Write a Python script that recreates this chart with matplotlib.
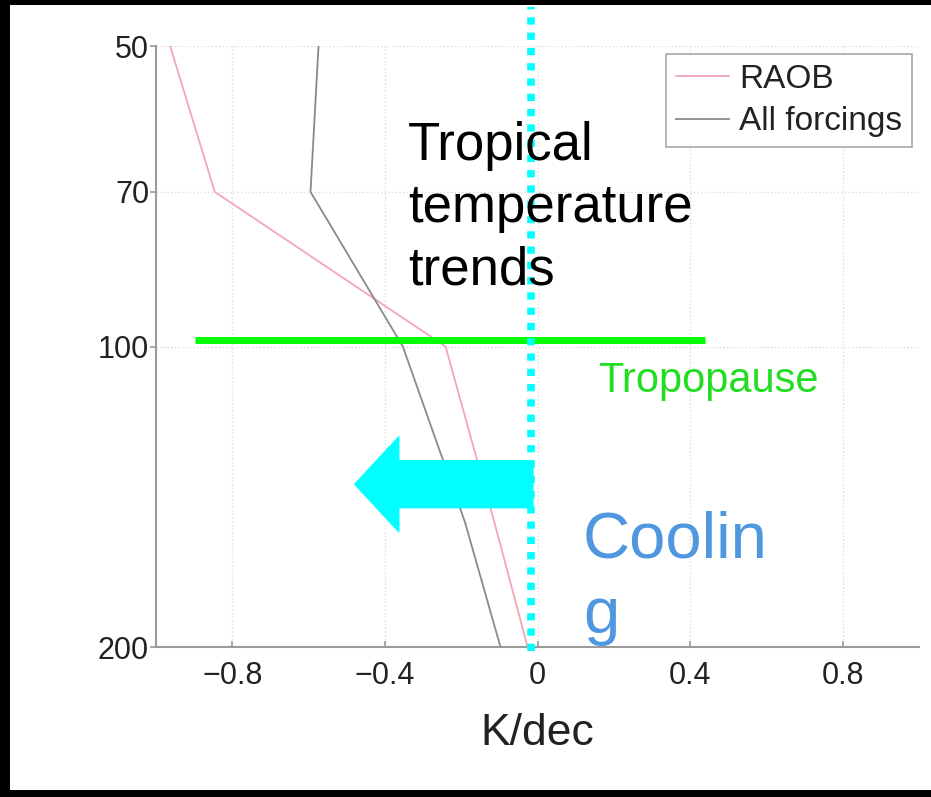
import matplotlib
matplotlib.use('Agg')
import matplotlib.pyplot as plt
from matplotlib.patches import Rectangle
from matplotlib.ticker import FixedLocator, NullLocator

plt.rcParams['font.family'] = ['Liberation Sans', 'DejaVu Sans']

# pressure levels (hPa) and trends (K/decade)
pressure = [50, 70, 100, 150, 200]
raob = [-0.963, -0.846, -0.241, -0.113, -0.026]
all_forcings = [-0.574, -0.595, -0.353, -0.19, -0.097]

y_ticks = [50, 70, 100, 200]
x_ticks = [-0.8, -0.4, 0, 0.4, 0.8]
x_tick_labels = ['\u22120.8', '\u22120.4', '0', '0.4', '0.8']

W, H = 931, 797
fig = plt.figure(figsize=(W / 100, H / 100), dpi=100, facecolor='black')

# white page on black background
fig.patches.append(Rectangle((10 / W, 7 / H), 1 - 10 / W, 1 - 12 / H,
                             transform=fig.transFigure, facecolor='white',
                             edgecolor='none', zorder=-5))

ax_l, ax_r, ax_t, ax_b = 156, 919, 46, 647
ax = fig.add_axes([ax_l / W, 1 - ax_b / H, (ax_r - ax_l) / W, (ax_b - ax_t) / H])
ax.set_facecolor('none')

ax.plot(raob, pressure, color='#f2a6b8', lw=1.3, label='RAOB', zorder=3)
ax.plot(all_forcings, pressure, color='#8a8a8a', lw=1.3, label='All forcings', zorder=3)

ax.set_yscale('log')
ax.set_ylim(200, 50)
ax.set_xlim(-1, 1)
ax.yaxis.set_major_locator(FixedLocator(y_ticks))
ax.yaxis.set_minor_locator(NullLocator())
ax.set_yticklabels([str(v) for v in y_ticks])
ax.set_xticks(x_ticks)
ax.set_xticklabels(x_tick_labels)

ax.grid(True, which='major', color='#dcdcdc', linestyle=':', lw=1.0)
for side in ['top', 'right']:
    ax.spines[side].set_visible(False)
for side in ['left', 'bottom']:
    ax.spines[side].set_color('#9a9a9a')
    ax.spines[side].set_linewidth(1.5)

ax.tick_params(axis='y', direction='out', length=4, width=1.2, color='#9a9a9a',
               labelsize=22, labelcolor='#222222', pad=1)
ax.tick_params(axis='x', direction='in', length=4, width=1.2, color='#9a9a9a',
               labelsize=22, labelcolor='#222222', pad=10)
ax.set_xlabel('K/dec', fontsize=32, color='#222222', labelpad=16)

leg = ax.legend(loc='upper right', bbox_to_anchor=(0.991, 0.987), borderaxespad=0,
                fontsize=24, handlelength=1.6, handletextpad=0.3, labelspacing=0.35,
                fancybox=False, framealpha=1, edgecolor='#a8a8a8', borderpad=0.3)
leg.get_frame().set_linewidth(1.2)
for t in leg.get_texts():
    t.set_color('#222222')

# tropopause marker line
ax.plot([-0.898, 0.44], [98.6, 98.6], color='#00ff00', lw=5, solid_capstyle='butt', zorder=4)

# zero line (dotted cyan), runs above the axes top
ax.axvline(-0.018, ymin=-0.006, ymax=1.065, color='#00ffff', lw=5.5,
           linestyle=(0, (0.95, 1.05)), clip_on=False, zorder=6)

# cooling arrow
ax.annotate('', xy=(-0.479, 137.4), xytext=(-0.012, 137.4),
            arrowprops=dict(arrowstyle='simple,head_length=3.17,head_width=6.84,tail_width=3.38',
                            color='#00ffff', mutation_scale=10, shrinkA=0, shrinkB=0),
            zorder=5)

fig.text(408 / W, 1 - 121 / H, 'Tropical\ntemperature\ntrends', fontsize=38,
         color='black', va='top', ha='left', linespacing=1.32, zorder=7)
fig.text(598 / W, 1 - 392 / H, 'Tropopause', fontsize=30, color='#22dd22',
         va='baseline', ha='left', zorder=7)
fig.text(583 / W, 1 - 510 / H, 'Coolin\ng', fontsize=47, color='#4f98e0',
         va='top', ha='left', linespacing=1.35, zorder=7)

fig.savefig('out.png', dpi=100, facecolor='black')
